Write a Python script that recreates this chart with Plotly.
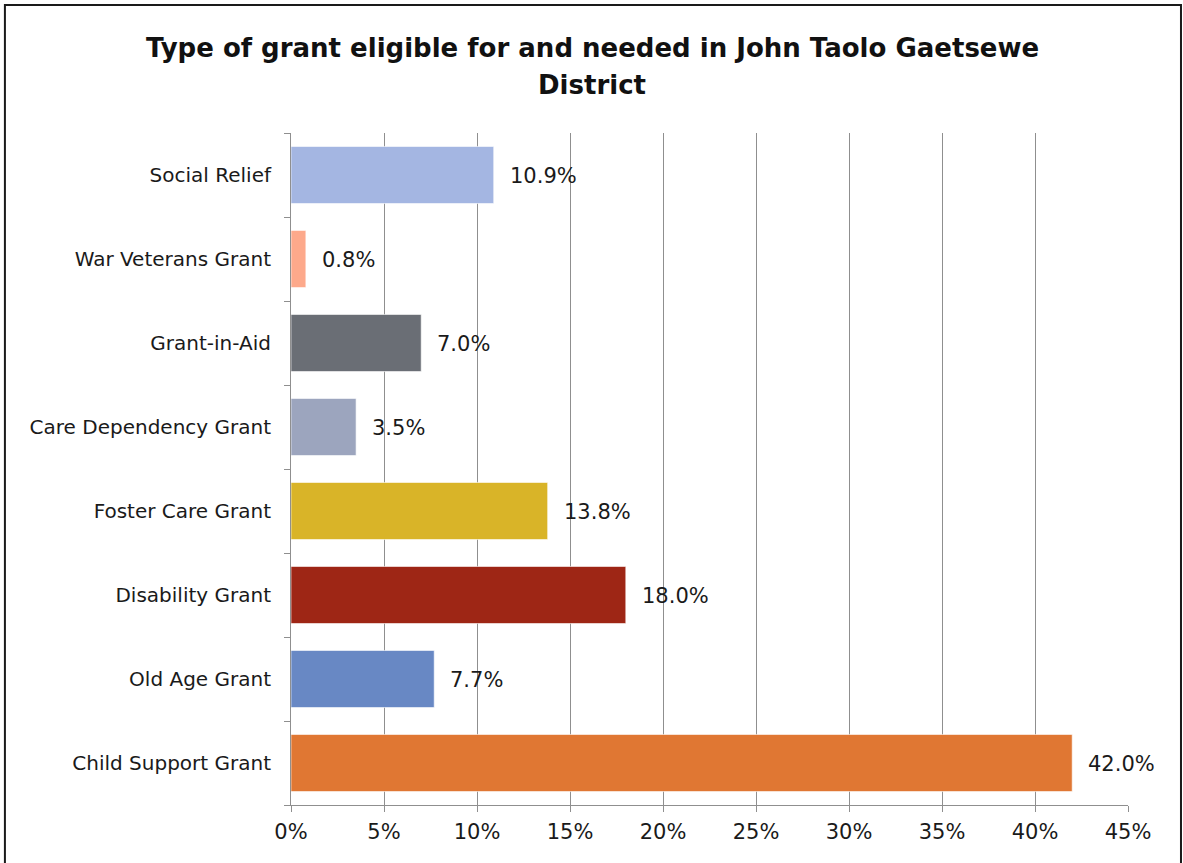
import plotly.graph_objects as go

# Grant types, listed bottom to top as drawn on the category axis
categories = [
    "Child Support Grant",
    "Old Age Grant",
    "Disability Grant",
    "Foster Care Grant",
    "Care Dependency Grant",
    "Grant-in-Aid",
    "War Veterans Grant",
    "Social Relief",
]
shares = [42.0, 7.7, 18.0, 13.8, 3.5, 7.0, 0.8, 10.9]
bar_colors = [
    "#E07733", "#6888C4", "#9E2615", "#D9B428",
    "#9CA5BE", "#6A6E75", "#FDA98B", "#A4B6E2",
]
x_ticks = [0, 5, 10, 15, 20, 25, 30, 35, 40, 45]
title_lines = ["Type of grant eligible for and needed in John Taolo Gaetsewe", "District"]

FONT = "DejaVu Sans"

fig = go.Figure(
    go.Bar(
        y=categories,
        x=shares,
        orientation="h",
        marker=dict(color=bar_colors, line=dict(color="rgba(255,255,255,0.6)", width=1)),
        width=0.68,
        hoverinfo="skip",
    )
)

# value labels placed just past the end of each bar
for cat, val in zip(categories, shares):
    fig.add_annotation(
        x=val, y=cat, text=f"{val:.1f}%", showarrow=False,
        xanchor="left", xshift=14, yshift=-1,
        font=dict(family=FONT, size=21, color="#1a1a1a"),
    )

# two-line chart title
for line, ypos in zip(title_lines, [1.1265, 1.0714]):
    fig.add_annotation(
        x=0.36, xref="paper", y=ypos, yref="paper", text=f"<b>{line}</b>",
        showarrow=False, xanchor="center", yanchor="middle",
        font=dict(family=FONT, size=26, color="#111111"),
    )

# outer chart frame
fig.add_shape(
    type="rect", xref="paper", yref="paper",
    x0=-0.3418, x1=1.0633, y0=-0.2, y1=1.1905,
    line=dict(color="#1a1a1a", width=2), fillcolor="rgba(0,0,0,0)",
    layer="below",
)

fig.update_layout(
    width=1183, height=863,
    margin=dict(l=291, r=55, t=133, b=58),
    paper_bgcolor="white", plot_bgcolor="white",
    showlegend=False,
    xaxis=dict(
        range=[0, 45], tickvals=x_ticks,
        ticktext=[f"{t}%" for t in x_ticks],
        showgrid=True, gridcolor="#8f8f8f", gridwidth=1,
        showline=True, linecolor="#8f8f8f", linewidth=1,
        ticks="outside", ticklen=6, tickcolor="#8f8f8f",
        zeroline=False,
        tickfont=dict(family=FONT, size=21, color="#1a1a1a"),
        ticklabelstandoff=2,
        fixedrange=True,
    ),
    yaxis=dict(
        categoryorder="array", categoryarray=categories,
        showline=True, linecolor="#8f8f8f", linewidth=1,
        ticks="outside", ticklen=6, tickcolor="#8f8f8f",
        tickson="boundaries",
        showgrid=False,
        tickfont=dict(family=FONT, size=20, color="#1a1a1a"),
        ticklabelstandoff=15,
        fixedrange=True,
    ),
)

fig.write_html("out.html")
